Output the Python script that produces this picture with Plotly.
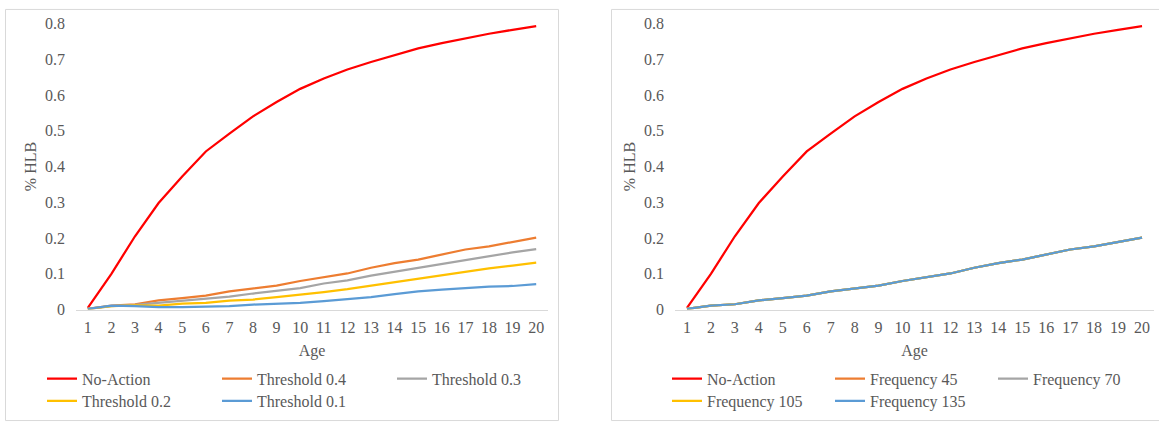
import plotly.graph_objects as go

W, H = 1159, 431

ages = list(range(1, 21))

no_action = [0.005, 0.100, 0.205, 0.298, 0.372, 0.442, 0.492, 0.540, 0.580, 0.617,
             0.646, 0.671, 0.692, 0.712, 0.730, 0.745, 0.759, 0.771, 0.782, 0.792]

threshold_04 = [0.002, 0.011, 0.015, 0.026, 0.032, 0.039, 0.051, 0.059, 0.067, 0.080,
                0.091, 0.101, 0.117, 0.130, 0.140, 0.155, 0.168, 0.177, 0.190, 0.201]
threshold_03 = [0.002, 0.010, 0.013, 0.019, 0.025, 0.032, 0.036, 0.045, 0.053, 0.060,
                0.073, 0.082, 0.095, 0.106, 0.115, 0.128, 0.137, 0.149, 0.160, 0.169]
threshold_02 = [0.002, 0.010, 0.012, 0.011, 0.017, 0.019, 0.025, 0.028, 0.035, 0.041,
                0.049, 0.057, 0.067, 0.077, 0.087, 0.097, 0.106, 0.115, 0.123, 0.131]
threshold_01 = [0.002, 0.011, 0.010, 0.007, 0.007, 0.008, 0.010, 0.014, 0.016, 0.019,
                0.024, 0.029, 0.035, 0.043, 0.051, 0.056, 0.061, 0.064, 0.066, 0.071]

frequency_45 = [0.002, 0.011, 0.015, 0.026, 0.032, 0.039, 0.051, 0.059, 0.067, 0.080,
                0.091, 0.101, 0.117, 0.130, 0.140, 0.155, 0.168, 0.177, 0.190, 0.201]
frequency_70 = [0.002, 0.011, 0.015, 0.026, 0.032, 0.039, 0.051, 0.059, 0.067, 0.080,
                0.091, 0.101, 0.117, 0.130, 0.140, 0.155, 0.168, 0.177, 0.190, 0.201]
frequency_105 = [0.002, 0.011, 0.015, 0.026, 0.032, 0.039, 0.051, 0.059, 0.067, 0.080,
                 0.091, 0.101, 0.117, 0.130, 0.140, 0.155, 0.168, 0.177, 0.190, 0.201]
frequency_135 = [0.002, 0.011, 0.015, 0.026, 0.032, 0.039, 0.051, 0.059, 0.067, 0.080,
                 0.091, 0.101, 0.117, 0.130, 0.140, 0.155, 0.168, 0.177, 0.190, 0.201]

y_ticks = [0, 0.1, 0.2, 0.3, 0.4, 0.5, 0.6, 0.7, 0.8]
y_ticktext = ["0", "0.1", "0.2", "0.3", "0.4", "0.5", "0.6", "0.7", "0.8"]

RED = "#FF0000"
ORANGE = "#ED7D31"
GRAY = "#A5A5A5"
YELLOW = "#FFC000"
BLUE = "#5B9BD5"
TXT = "#595959"
FONT = "Liberation Serif, Times New Roman, DejaVu Serif, serif"
LW = 2.25

left_series = [
    ("No-Action", no_action, RED, "legend"),
    ("Threshold 0.4", threshold_04, ORANGE, "legend"),
    ("Threshold 0.3", threshold_03, GRAY, "legend"),
    ("Threshold 0.2", threshold_02, YELLOW, "legend2"),
    ("Threshold 0.1", threshold_01, BLUE, "legend2"),
]
right_series = [
    ("No-Action", no_action, RED, "legend3"),
    ("Frequency 45", frequency_45, ORANGE, "legend3"),
    ("Frequency 70", frequency_70, GRAY, "legend3"),
    ("Frequency 105", frequency_105, YELLOW, "legend4"),
    ("Frequency 135", frequency_135, BLUE, "legend4"),
]

fig = go.Figure()
for name, vals, col, lg in left_series:
    fig.add_trace(go.Scatter(x=ages, y=vals, mode="lines", name=name,
                             line=dict(color=col, width=LW), xaxis="x", yaxis="y",
                             legend=lg))
for name, vals, col, lg in right_series:
    fig.add_trace(go.Scatter(x=ages, y=vals, mode="lines", name=name,
                             line=dict(color=col, width=LW), xaxis="x2", yaxis="y2",
                             legend=lg))

def px_x(v):
    return v / W

def px_y(v):
    return (H - v) / H

xcommon = dict(range=[0.5, 20.5], tickmode="array", tickvals=ages,
               ticktext=[str(a) for a in ages], showgrid=False, zeroline=False,
               showline=True, linecolor="#D9D9D9", linewidth=1, ticks="",
               tickfont=dict(family=FONT, size=16, color=TXT),
               ticklabelstandoff=3,
               title=dict(text="Age", font=dict(family=FONT, size=16, color=TXT), standoff=9),
               fixedrange=True)
ycommon = dict(range=[0, 0.8], tickmode="array", tickvals=y_ticks, ticktext=y_ticktext,
               showgrid=False, zeroline=False, showline=False, ticks="",
               tickfont=dict(family=FONT, size=16, color=TXT),
               ticklabelstandoff=10,
               title=dict(text="% HLB", font=dict(family=FONT, size=16, color=TXT), standoff=4),
               domain=[px_y(314), px_y(16)], fixedrange=True)

legcommon = dict(orientation="h", xanchor="left", yanchor="middle",
                 bgcolor="rgba(0,0,0,0)", borderwidth=0,
                 font=dict(family=FONT, size=16, color=TXT),
                 entrywidthmode="pixels", tracegroupgap=0, itemclick=False,
                 itemdoubleclick=False)

fig.update_layout(
    width=W, height=H,
    margin=dict(l=0, r=0, t=0, b=0),
    paper_bgcolor="white", plot_bgcolor="white",
    font=dict(family=FONT, size=16, color=TXT),
    xaxis=dict(domain=[px_x(76), px_x(548)], anchor="y", **xcommon),
    yaxis=dict(anchor="x", **ycommon),
    xaxis2=dict(domain=[px_x(675), px_x(1154)], anchor="y2", **xcommon),
    yaxis2=dict(anchor="x2", **ycommon),
    legend=dict(x=px_x(42), y=px_y(386), entrywidth=130, **legcommon),
    legend2=dict(x=px_x(42), y=px_y(409), entrywidth=130, **legcommon),
    legend3=dict(x=px_x(667), y=px_y(386), entrywidth=118, **legcommon),
    legend4=dict(x=px_x(667), y=px_y(409), entrywidth=118, **legcommon),
    showlegend=True,
    shapes=[
        dict(type="rect", xref="paper", yref="paper",
             x0=px_x(5.5), x1=px_x(558.5), y0=px_y(429.5), y1=px_y(1.5),
             line=dict(color="#D9D9D9", width=1), fillcolor="rgba(0,0,0,0)", layer="below"),
        dict(type="rect", xref="paper", yref="paper",
             x0=px_x(611.5), x1=px_x(1165), y0=px_y(429.5), y1=px_y(1.5),
             line=dict(color="#D9D9D9", width=1), fillcolor="rgba(0,0,0,0)", layer="below"),
    ],
)

fig.write_html("out.html")
